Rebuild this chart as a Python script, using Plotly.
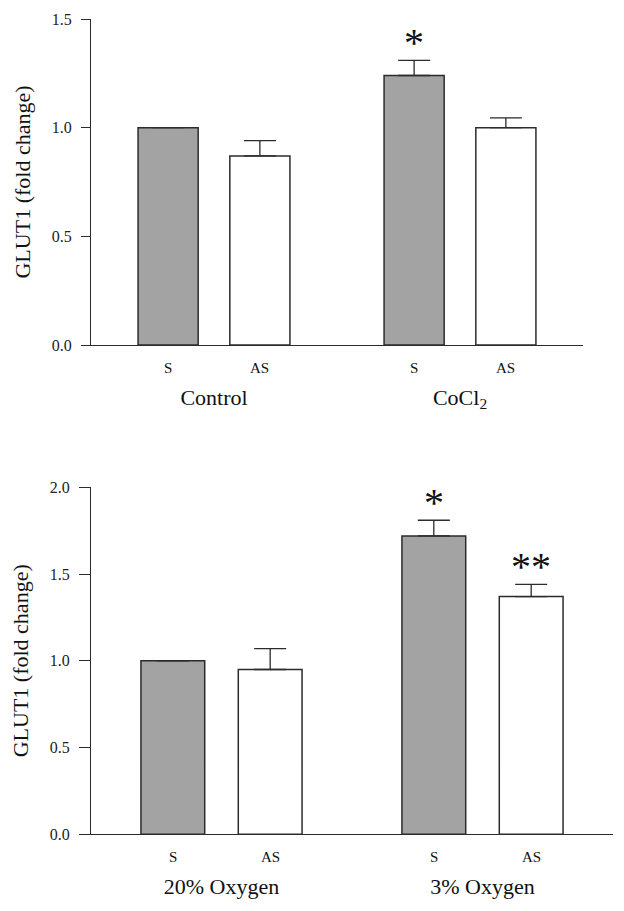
import plotly.graph_objects as go

# ---------------- data ----------------
bar_labels = ["S", "AS"]

top_groups = ["Control", "CoCl<sub>2</sub>"]
top_s = [1.00, 1.24]
top_s_err = [0.0, 0.07]
top_as = [0.87, 1.00]
top_as_err = [0.07, 0.045]
top_sig_s = ["", "*"]
top_sig_as = ["", ""]

bot_groups = ["20% Oxygen", "3% Oxygen"]
bot_s = [1.00, 1.72]
bot_s_err = [0.0, 0.09]
bot_as = [0.95, 1.37]
bot_as_err = [0.12, 0.07]
bot_sig_s = ["", "*"]
bot_sig_as = ["", "**"]

top_ticks = [0.0, 0.5, 1.0, 1.5]
bot_ticks = [0.0, 0.5, 1.0, 1.5, 2.0]

# ---------------- style ----------------
PAGE_MARGIN = 8          # default body margin of the html page
W, H = 624 - 2 * PAGE_MARGIN, 911 - 2 * PAGE_MARGIN
FONT = "Liberation Serif, Times New Roman, serif"
GRAY = "#a3a3a3"
LINE = "#2b2b2b"
BARGAP = 0.254
BARGROUPGAP = 0.345


def xd(px):
    return (px - PAGE_MARGIN) / W


def yd(px):
    return (H - (px - PAGE_MARGIN)) / H


top_xdom = [xd(91), xd(583)]
top_ydom = [yd(345), yd(19)]
bot_xdom = [xd(91), xd(613)]
bot_ydom = [yd(834.3), yd(487.3)]

fig = go.Figure()


def add_panel(groups, s, s_err, a, a_err, xa, ya):
    fig.add_trace(go.Bar(
        x=groups, y=s, name="S", xaxis=xa, yaxis=ya,
        marker=dict(color=GRAY, line=dict(color=LINE, width=1.5)),
        error_y=dict(type="data", array=s_err, arrayminus=[0] * len(s),
                     symmetric=False, color=LINE, thickness=1.3, width=16),
        showlegend=False,
    ))
    fig.add_trace(go.Bar(
        x=groups, y=a, name="AS", xaxis=xa, yaxis=ya,
        marker=dict(color="white", line=dict(color=LINE, width=1.5)),
        error_y=dict(type="data", array=a_err, arrayminus=[0] * len(a),
                     symmetric=False, color=LINE, thickness=1.3, width=16),
        showlegend=False,
    ))


add_panel(top_groups, top_s, top_s_err, top_as, top_as_err, "x", "y")
add_panel(bot_groups, bot_s, bot_s_err, bot_as, bot_as_err, "x2", "y2")

annotations = []


def add_labels(groups, s, s_err, a, a_err, sig_s, sig_as, xref, yref, xdom):
    cat_px = (xdom[1] - xdom[0]) * W / len(groups)
    off = (1 - BARGAP) / 4 * cat_px
    for g, grp in enumerate(groups):
        for i, lab in enumerate(bar_labels):
            shift = -off if i == 0 else off
            annotations.append(dict(
                x=grp, xref=xref, y=0, yref=yref + " domain", xshift=shift,
                yshift=-23, text=lab, showarrow=False, yanchor="middle",
                font=dict(family=FONT, size=15, color="#111"),
            ))
        for val, err, sig, shift in ((s[g], s_err[g], sig_s[g], -off),
                                      (a[g], a_err[g], sig_as[g], off)):
            if sig:
                annotations.append(dict(
                    x=grp, xref=xref, y=val + err, yref=yref, xshift=shift,
                    yshift=-7, text=sig, showarrow=False, yanchor="bottom",
                    font=dict(family=FONT, size=40, color="#111"),
                ))


add_labels(top_groups, top_s, top_s_err, top_as, top_as_err, top_sig_s,
           top_sig_as, "x", "y", top_xdom)
add_labels(bot_groups, bot_s, bot_s_err, bot_as, bot_as_err, bot_sig_s,
           bot_sig_as, "x2", "y2", bot_xdom)

xcommon = dict(showline=True, linecolor=LINE, linewidth=1.3, ticks="",
               showgrid=False, zeroline=False, ticklabelstandoff=32,
               automargin=False,
               tickfont=dict(family=FONT, size=22, color="#111"))
ycommon = dict(showline=True, linecolor=LINE, linewidth=1.3, ticks="outside",
               tickcolor=LINE, tickwidth=1.3, showgrid=False, zeroline=False,
               tickformat=".1f", ticklabelstandoff=6, automargin=False,
               tickfont=dict(family=FONT, size=16, color="#222"),
               title=dict(text="GLUT1 (fold change)", standoff=14,
                          font=dict(family=FONT, size=22, color="#111")))

fig.update_layout(
    width=W, height=H,
    margin=dict(l=0, r=0, t=0, b=0),
    paper_bgcolor="white", plot_bgcolor="white",
    font=dict(family=FONT),
    barmode="group", bargap=BARGAP, bargroupgap=BARGROUPGAP,
    xaxis=dict(domain=top_xdom, anchor="y", **xcommon),
    yaxis=dict(domain=top_ydom, anchor="x", range=[0, 1.5],
               tickvals=top_ticks, ticklen=9, **ycommon),
    xaxis2=dict(domain=bot_xdom, anchor="y2", **xcommon),
    yaxis2=dict(domain=bot_ydom, anchor="x2", range=[0, 2.0],
                tickvals=bot_ticks, ticklen=11, **ycommon),
    annotations=annotations,
)

fig.write_html("out.html")
